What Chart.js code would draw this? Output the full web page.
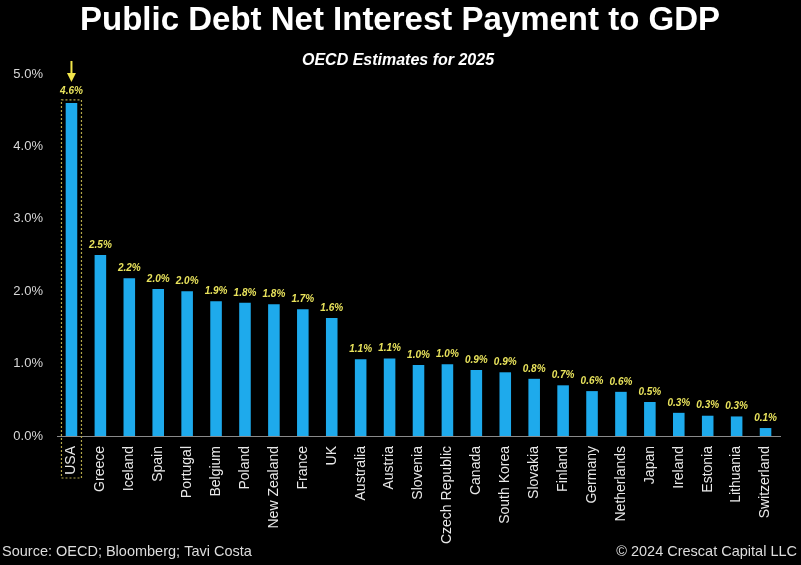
<!DOCTYPE html>
<html>
<head>
<meta charset="utf-8">
<script src="https://cdn.jsdelivr.net/npm/chart.js@4.4.1/dist/chart.umd.min.js"></script>
<style>
  html, body { margin: 0; padding: 0; background: #000; }
  #wrap { width: 801px; height: 565px; position: relative; }
</style>
</head>
<body>
<div id="wrap"><canvas id="barChart"></canvas></div>
<script>
const countries = [
    'USA', 'Greece', 'Iceland', 'Spain', 'Portugal', 'Belgium', 'Poland',
    'New Zealand', 'France', 'UK', 'Australia', 'Austria', 'Slovenia',
    'Czech Republic', 'Canada', 'South Korea', 'Slovakia', 'Finland',
    'Germany', 'Netherlands', 'Japan', 'Ireland', 'Estonia', 'Lithuania',
    'Switzerland'
];

// net interest payment, % of GDP
const interest = [
    4.6, 2.5, 2.18, 2.03, 2.0, 1.86, 1.84, 1.82, 1.75, 1.63, 1.06, 1.07, 0.98,
    0.99, 0.91, 0.88, 0.79, 0.70, 0.62, 0.61, 0.47, 0.32, 0.28, 0.27, 0.11
];

// the labels printed above the bars
const valueLabels = [
    '4.6%', '2.5%', '2.2%', '2.0%', '2.0%', '1.9%', '1.8%', '1.8%', '1.7%',
    '1.6%', '1.1%', '1.1%', '1.0%', '1.0%', '0.9%', '0.9%', '0.8%', '0.7%',
    '0.6%', '0.6%', '0.5%', '0.3%', '0.3%', '0.3%', '0.1%'
];

const yTicks = [0, 1, 2, 3, 4, 5];

const FONT = '"Liberation Sans", Arial, sans-serif';
const YELLOW = '#e9e35c';

const extras = {
    id: 'extras',
    afterDatasetsDraw(chart) {
        const ctx = chart.ctx;
        const x = chart.scales.x;
        const y = chart.scales.y;
        const meta = chart.getDatasetMeta(0);
        ctx.save();

        // value labels
        ctx.fillStyle = YELLOW;
        ctx.font = 'italic bold 10px ' + FONT;
        ctx.textAlign = 'center';
        ctx.textBaseline = 'bottom';
        meta.data.forEach((bar, i) => {
            ctx.fillText(valueLabels[i], bar.x, bar.y - (i === 0 ? 7 : 5));
        });

        // dashed box round the USA bar and label
        const ux = x.getPixelForValue(0);
        const top = y.getPixelForValue(interest[0]);
        ctx.strokeStyle = '#b5a84a';
        ctx.lineWidth = 1.2;
        ctx.setLineDash([2, 2]);
        ctx.strokeRect(ux - 10, top - 3, 20, y.getPixelForValue(0) + 42 - (top - 3));
        ctx.setLineDash([]);

        // arrow
        ctx.strokeStyle = '#f2e64a';
        ctx.fillStyle = '#f2e64a';
        ctx.lineWidth = 2;
        ctx.beginPath();
        ctx.moveTo(ux, top - 42);
        ctx.lineTo(ux, top - 28);
        ctx.stroke();
        ctx.beginPath();
        ctx.moveTo(ux - 4.5, top - 30);
        ctx.lineTo(ux + 4.5, top - 30);
        ctx.lineTo(ux, top - 21);
        ctx.closePath();
        ctx.fill();

        // title, subtitle and footer
        ctx.fillStyle = '#ffffff';
        ctx.textAlign = 'center';
        ctx.textBaseline = 'middle';
        ctx.font = 'bold 33px ' + FONT;
        ctx.fillText('Public Debt Net Interest Payment to GDP', 400, 21);
        ctx.font = 'italic bold 16px ' + FONT;
        ctx.fillText('OECD Estimates for 2025', 398, 61);

        ctx.fillStyle = '#dddddd';
        ctx.font = '14.5px ' + FONT;
        ctx.textAlign = 'left';
        ctx.fillText('Source: OECD; Bloomberg; Tavi Costa', 2, 552);
        ctx.textAlign = 'right';
        ctx.fillText('\u00a9 2024 Crescat Capital LLC', 797, 552);
        ctx.restore();
    }
};

new Chart(document.getElementById('barChart'), {
    type: 'bar',
    data: {
        labels: countries,
        datasets: [{
            data: interest,
            backgroundColor: '#1eaaec',
            borderWidth: 0,
            barPercentage: 0.4,
            categoryPercentage: 1.0
        }]
    },
    options: {
        responsive: true,
        maintainAspectRatio: false,
        animation: false,
        layout: { padding: { top: 74, right: 21, left: 0, bottom: 0 } },
        plugins: {
            legend: { display: false },
            tooltip: { enabled: false }
        },
        scales: {
            x: {
                grid: { display: false, drawTicks: false },
                border: { display: true, color: '#8a8a8a', width: 1 },
                ticks: {
                    color: '#e8e8e8',
                    font: { family: FONT, size: 14 },
                    minRotation: 90,
                    maxRotation: 90,
                    autoSkip: false,
                    padding: 10
                },
                afterFit(scale) { scale.height = 129; }
            },
            y: {
                min: 0,
                max: 5,
                afterBuildTicks(scale) {
                    scale.ticks = yTicks.map(v => ({ value: v }));
                },
                grid: { display: false, drawTicks: false },
                border: { display: false },
                ticks: {
                    color: '#d8d8d8',
                    font: { family: FONT, size: 13 },
                    padding: 14,
                    callback: v => v.toFixed(1) + '%'
                },
                afterFit(scale) { scale.width = 57; }
            }
        }
    },
    plugins: [extras]
});
</script>
</body>
</html>
